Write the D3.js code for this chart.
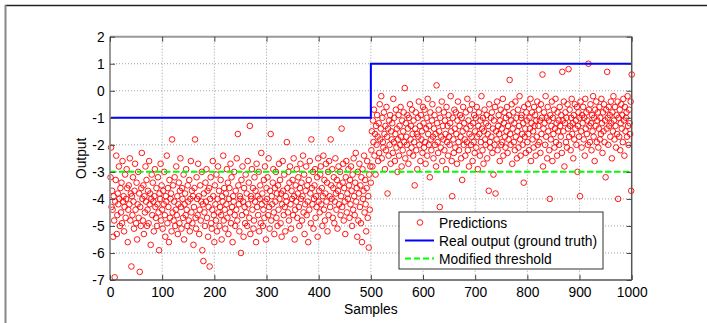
<!DOCTYPE html>
<html>
<head>
<meta charset="utf-8">
<script src="https://cdn.jsdelivr.net/npm/d3@7"></script>
<style>
  body { margin: 0; background: #fff; }
  svg { display: block; font-family: "Liberation Sans", Arial, sans-serif; }
  .grid line { stroke: #a0a0a0; stroke-dasharray: 1,2; }
</style>
</head>
<body>
<div id="chart"></div>
<script>
// Predictions (samples 1..500, then 501..1000)
const predFirstHalf = [
  -3.2,-2.1,-4.3,-3.7,-4.4,-5.4,-3.9,-4.8,-6.9,-4.1,-3.3,-2.4,-5.3,-4.6,-3.8,-4.2,-2.8,-4.0,-5.0,-3.6,
  -4.5,-3.4,-4.9,-2.6,-4.1,-3.9,-5.2,-4.3,-3.1,-4.7,-4.0,-2.9,-3.6,-5.6,-4.4,-3.5,-4.2,-2.5,-4.8,-3.8,
  -6.5,-3.9,-4.6,-3.2,-4.1,-5.1,-3.7,-2.7,-4.4,-4.9,-3.4,-5.5,-4.2,-3.0,-4.7,-3.8,-6.7,-4.3,-5.0,-3.6,
  -2.3,-4.0,-4.8,-3.5,-5.3,-3.9,-4.5,-2.8,-4.1,-3.3,-5.0,-4.4,-3.7,-4.9,-2.6,-4.2,-3.8,-5.7,-4.0,-3.1,
  -4.6,-3.4,-4.1,-5.2,-3.9,-2.9,-4.3,-4.7,-3.6,-5.0,-4.2,-3.2,-4.5,-5.9,-3.8,-4.0,-2.7,-4.8,-3.5,-4.4,
  -5.1,-3.7,-4.2,-3.0,-4.6,-5.4,-3.9,-4.1,-2.4,-4.9,-3.6,-4.3,-5.6,-3.3,-4.7,-4.0,-3.8,-5.2,-1.8,-4.5,
  -3.5,-4.8,-4.1,-3.2,-5.0,-4.4,-2.8,-4.6,-3.9,-5.3,-4.2,-3.4,-4.9,-3.7,-2.5,-4.3,-5.1,-3.6,-4.0,-4.7,
  -3.1,-5.5,-4.2,-3.8,-4.6,-2.9,-4.4,-5.0,-3.5,-4.1,-4.8,-3.3,-5.2,-4.0,-2.6,-4.5,-3.7,-4.9,-3.9,-5.7,
  -4.3,-3.6,-1.8,-4.7,-5.1,-3.2,-4.0,-4.6,-2.7,-3.9,-5.3,-4.4,-3.5,-4.8,-4.1,-3.0,-5.9,-4.2,-6.3,-3.8,
  -4.5,-5.0,-3.4,-4.1,-2.9,-4.7,-3.7,-5.4,-4.3,-3.6,-6.5,-4.0,-3.2,-4.9,-5.1,-4.4,-2.6,-3.9,-4.6,-5.6,
  -3.5,-4.2,-4.8,-3.1,-5.2,-4.0,-2.8,-4.5,-3.7,-5.0,-4.3,-3.3,-4.6,-5.5,-3.9,-4.1,-2.4,-4.8,-3.6,-4.4,
  -5.1,-3.8,-4.2,-2.9,-4.7,-3.4,-5.3,-4.0,-3.6,-4.5,-2.7,-4.9,-3.2,-4.3,-5.6,-3.9,-4.1,-3.0,-4.6,-5.0,
  -3.7,-4.4,-2.5,-4.8,-1.6,-3.5,-4.2,-5.2,-3.9,-4.0,-6.0,-3.3,-4.6,-2.8,-4.1,-5.4,-3.6,-4.3,-4.9,-3.1,
  -4.5,-3.8,-5.0,-2.6,-4.2,-3.4,-4.7,-1.3,-5.3,-3.9,-4.0,-2.9,-4.4,-3.6,-5.1,-4.8,-3.2,-4.1,-3.7,-5.6,
  -2.7,-4.3,-3.9,-4.6,-3.0,-5.2,-4.0,-3.5,-4.9,-2.3,-4.2,-3.8,-5.0,-4.4,-3.3,-4.7,-2.8,-4.1,-5.5,-3.6,
  -4.0,-3.2,-4.6,-2.5,-4.3,-5.1,-3.7,-1.6,-4.8,-3.9,-4.2,-3.4,-2.9,-4.5,-5.3,-3.6,-4.1,-3.0,-4.7,-3.8,
  -5.0,-3.5,-4.4,-2.7,-4.0,-3.3,-4.9,-3.8,-5.4,-4.2,-2.6,-3.7,-4.6,-3.1,-4.3,-5.2,-3.9,-4.1,-1.9,-3.6,
  -4.5,-3.0,-4.8,-3.4,-2.8,-4.2,-5.1,-3.7,-4.0,-3.3,-4.6,-2.5,-3.9,-5.5,-4.4,-3.5,-4.1,-2.9,-4.7,-3.8,
  -3.2,-4.3,-5.0,-3.6,-2.7,-4.0,-3.4,-4.8,-3.9,-2.4,-4.5,-3.1,-5.3,-4.2,-3.7,-2.8,-4.6,-3.5,-4.1,-5.6,
  -3.3,-4.4,-2.6,-3.8,-4.9,-1.8,-3.6,-4.2,-3.0,-5.1,-4.0,-3.5,-2.9,-4.7,-3.9,-4.3,-3.2,-5.4,-2.5,-4.1,
  -3.7,-4.5,-3.1,-2.8,-4.2,-3.6,-5.0,-3.9,-2.4,-4.4,-3.3,-4.8,-3.8,-2.7,-4.1,-3.4,-5.2,-3.0,-4.6,-2.6,
  -3.9,-4.3,-1.8,-3.5,-4.0,-2.9,-4.7,-3.6,-3.2,-4.9,-4.1,-2.5,-3.8,-4.4,-3.3,-5.1,-3.7,-2.8,-4.2,-3.5,
  -3.0,-4.6,-3.9,-1.4,-4.3,-3.4,-2.7,-4.8,-3.6,-4.1,-5.3,-3.2,-2.6,-4.5,-3.8,-4.0,-2.9,-3.5,-4.7,-3.3,
  -4.2,-2.8,-3.7,-5.0,-3.1,-4.4,-2.5,-3.9,-4.6,-3.4,-2.3,-4.1,-3.6,-5.4,-3.0,-4.8,-3.8,-2.7,-4.3,-3.5,
  -4.9,-3.2,-5.6,-2.9,-4.0,-3.7,-2.4,-4.5,-3.3,-4.2,-5.2,-3.6,-2.6,-4.7,-3.9,-5.8,-3.1,-4.4,-2.8,-3.4
];
const predSecondHalf = [
  -2.2,-1.5,-2.8,-1.1,-1.9,-0.7,-2.4,-1.6,-3.1,-1.3,-2.0,-0.9,-1.7,-2.6,-1.2,-2.3,-0.5,-1.8,-1.4,-0.2,
  -2.5,-1.0,-1.9,-2.1,-0.8,-1.6,-2.9,-1.3,-2.2,-0.6,-1.7,-3.8,-1.4,-2.4,-1.1,-2.0,-0.9,-2.7,-1.5,-1.8,
  -1.2,-2.3,-0.3,-1.9,-1.0,-2.6,-1.6,-0.7,-2.1,-1.4,-3.0,-1.8,-0.9,-2.4,-1.3,-2.0,-0.6,-1.7,-2.8,-1.1,
  -2.2,-1.5,-0.8,-1.9,0.1,-2.5,-1.2,-1.7,-2.0,-0.9,-1.4,-2.7,-1.0,-2.3,-0.5,-1.8,-1.3,-2.1,-0.7,-1.6,
  -2.4,-1.1,-1.9,-3.5,-1.4,-0.8,-2.2,-1.6,-2.9,-1.0,-1.7,-0.4,-2.0,-1.3,-2.6,-0.9,-1.8,-1.5,-2.3,-0.6,
  -1.2,-2.1,-0.7,-1.9,-2.7,-1.4,-1.0,-2.4,-0.3,-1.6,-2.0,-1.3,-3.2,-0.8,-1.8,-2.2,-1.1,-0.5,-1.7,-2.5,
  -1.4,-0.9,-2.0,-1.6,-2.8,0.2,-1.2,-1.9,-2.3,-0.7,-1.5,-4.3,-1.0,-2.1,-1.7,-0.4,-2.6,-1.3,-1.8,-0.8,
  -2.2,-1.1,-1.6,-2.9,-0.6,-1.9,-1.3,-2.4,-0.9,-1.7,-2.0,-1.2,-0.2,-1.5,-2.6,-3.9,-1.0,-1.8,-2.3,-0.7,
  -1.4,-2.1,-0.8,-1.6,-2.7,-1.1,-0.4,-1.9,-2.2,-1.3,-0.9,-1.7,-2.5,-1.0,-3.3,-1.5,-0.6,-2.0,-1.2,-1.8,
  -2.4,-0.8,-1.4,-1.9,-0.3,-2.2,-1.1,-2.8,-1.6,-0.7,-1.3,-2.0,-1.7,-0.5,-2.6,-1.2,-1.9,-0.9,-2.3,-1.5,
  -1.0,-2.1,-0.6,-1.7,-2.9,-1.3,-0.8,-1.6,-2.4,-1.1,-1.9,-0.2,-1.4,-2.2,-1.0,-2.7,-1.5,-0.7,-1.8,-2.0,
  -1.2,-0.9,-2.5,-1.6,-1.3,-3.7,-0.5,-1.9,-2.1,-1.0,-1.7,-0.8,-2.3,-1.4,-3.1,-1.1,-2.0,-0.6,-3.8,-1.5,
  -1.8,-0.4,-2.2,-1.3,-0.9,-1.6,-2.6,-1.1,-0.7,-2.0,-1.4,-1.9,-0.3,-2.4,-1.2,-0.8,-1.7,-2.1,-1.0,-1.5,
  -0.6,-2.3,-1.3,-1.8,-0.9,0.4,-1.6,-2.0,-1.1,-0.5,-2.7,-1.4,-0.8,-1.9,-1.2,-2.2,-0.4,-1.7,-1.0,-2.5,
  -1.5,-0.7,-2.1,-1.3,-0.2,-1.8,-2.4,-1.0,-0.9,-1.6,-2.0,-1.2,-3.4,-0.6,-1.7,-1.4,-2.3,-0.8,-1.1,-1.9,
  -0.5,-1.6,-2.2,-1.0,-1.4,-0.3,-2.6,-1.2,-0.8,-1.8,-1.5,-2.1,-0.6,-1.3,-0.9,-2.4,-1.1,-1.7,-0.4,-2.0,
  -1.3,-0.7,-1.9,-1.1,-2.3,-0.5,-1.6,-1.0,0.6,-2.8,-1.4,-0.8,-1.2,-2.0,-0.2,-1.7,-1.0,-2.5,-0.6,-1.5,
  -1.1,-2.2,-4.0,-0.9,-1.8,-1.3,-0.4,-2.6,-1.0,-1.6,-0.7,-2.1,-1.4,-0.3,-1.9,-1.2,-2.4,-0.8,-1.5,-1.1,
  -2.0,-0.6,-1.3,-1.7,-0.9,-2.3,0.7,-1.1,-1.5,-0.4,-2.8,-1.2,-0.8,-1.9,-1.0,-2.1,-0.5,-1.4,0.8,-1.7,
  -0.7,-1.3,-2.2,-1.0,-0.3,-1.6,-1.2,-2.5,-0.9,-1.8,-0.5,-1.4,-1.1,-2.0,-0.6,-3.0,-1.3,-0.8,-1.7,-1.0,
  -3.9,-0.4,-1.5,-2.1,-0.9,-1.2,-0.6,-1.8,-1.0,-2.4,-0.3,-1.4,-0.8,-1.6,-1.1,-2.0,1.0,-0.7,-1.3,-1.9,
  -0.5,-1.2,-2.2,-0.9,-1.5,-0.2,-1.7,-1.0,-2.6,-0.7,-1.3,-0.4,-1.9,-1.1,-0.8,-2.1,-1.4,-0.6,-1.8,-1.0,
  -1.6,-0.3,-1.2,-2.3,-0.8,-1.5,-0.5,-1.9,-1.1,-3.2,-0.7,-1.4,0.7,-1.0,-2.0,-0.6,-1.3,-0.9,-1.7,-0.4,
  -1.2,-2.5,-0.8,-1.5,-0.2,-1.1,-1.8,-0.6,-1.3,-2.1,-0.9,-1.6,-0.4,-4.0,-1.0,-1.7,-0.7,-2.2,-1.2,-0.5,
  -1.4,-0.9,-1.9,-0.3,-1.1,-2.4,-0.6,-1.5,-1.0,-0.8,-1.7,-0.2,-1.3,-2.0,-0.7,-1.2,-1.6,-0.4,-3.7,0.6
];

// Ground truth step and threshold
const truthX = [0, 500, 500, 1000];
const truthY = [-1, -1, 1, 1];
const thresholdX = [0, 1000];
const thresholdY = [-3, -3];

const xTicks = [0, 100, 200, 300, 400, 500, 600, 700, 800, 900, 1000];
const yTicks = [-7, -6, -5, -4, -3, -2, -1, 0, 1, 2];
const legendLabels = ['Predictions', 'Real output (ground truth)', 'Modified threshold'];

const width = 707;
const height = 323;
const margin = {top: 36.7, right: 75.3, bottom: 43, left: 110};
const plotW = width - margin.left - margin.right;
const plotH = height - margin.top - margin.bottom;

const svg = d3.select('#chart').append('svg')
  .attr('width', width)
  .attr('height', height);

svg.append('rect').attr('width', width).attr('height', height).attr('fill', '#fff');

// figure frame (cropped border)
svg.append('line').attr('x1', 5).attr('x2', width).attr('y1', 5.5).attr('y2', 5.5)
  .attr('stroke', '#222').attr('stroke-width', 1.5);
svg.append('line').attr('x1', 5.5).attr('x2', 5.5).attr('y1', 5).attr('y2', height)
  .attr('stroke', '#888').attr('stroke-width', 2);

const g = svg.append('g')
  .attr('transform', 'translate(' + margin.left + ',' + margin.top + ')');

const xScale = d3.scaleLinear().domain([0, 1000]).range([0, plotW]);
const yScale = d3.scaleLinear().domain([-7, 2]).range([plotH, 0]);

// grid lines
const grid = g.append('g').attr('class', 'grid');
grid.selectAll('.vgrid')
  .data(xTicks.slice(1, -1))
  .enter().append('line')
  .attr('x1', (d) => xScale(d)).attr('x2', (d) => xScale(d))
  .attr('y1', 0).attr('y2', plotH);
grid.selectAll('.hgrid')
  .data(yTicks.slice(1, -1))
  .enter().append('line')
  .attr('x1', 0).attr('x2', plotW)
  .attr('y1', (d) => yScale(d)).attr('y2', (d) => yScale(d));

// predictions
const preds = predFirstHalf.concat(predSecondHalf).map((v, i) => ({x: i + 1, y: v}));
g.append('g')
  .selectAll('circle')
  .data(preds)
  .enter().append('circle')
  .attr('cx', (d) => xScale(d.x))
  .attr('cy', (d) => yScale(d.y))
  .attr('r', 2.8)
  .style('fill', 'none')
  .style('stroke', '#ff0000')
  .style('stroke-width', 0.9);

const line = d3.line()
  .x((d) => xScale(d[0]))
  .y((d) => yScale(d[1]));

// ground truth
g.append('path')
  .datum(d3.zip(truthX, truthY))
  .attr('d', line)
  .style('fill', 'none')
  .style('stroke', '#0000ff')
  .style('stroke-width', 2);

// modified threshold
g.append('path')
  .datum(d3.zip(thresholdX, thresholdY))
  .attr('d', line)
  .style('fill', 'none')
  .style('stroke', '#00ff00')
  .style('stroke-width', 2)
  .style('stroke-dasharray', '6,3');

// axes box: left/top light, right/bottom dark
g.append('line').attr('x1', 0).attr('x2', 0).attr('y1', 0).attr('y2', plotH)
  .attr('stroke', '#999').attr('stroke-width', 2);
g.append('line').attr('x1', 0).attr('x2', plotW).attr('y1', 0).attr('y2', 0)
  .attr('stroke', '#999').attr('stroke-width', 2);
g.append('line').attr('x1', plotW).attr('x2', plotW).attr('y1', 0).attr('y2', plotH)
  .attr('stroke', '#555').attr('stroke-width', 1.5);
g.append('line').attr('x1', 0).attr('x2', plotW).attr('y1', plotH).attr('y2', plotH)
  .attr('stroke', '#555').attr('stroke-width', 1.5);

// axes with inward ticks, plain hyphen-minus labels like MATLAB
const plainFmt = (d) => String(d);
const xAxis = g.append('g')
  .attr('transform', 'translate(0,' + plotH + ')')
  .call(d3.axisBottom(xScale).tickValues(xTicks).tickFormat(plainFmt)
    .tickSizeInner(-5).tickSizeOuter(0).tickPadding(7));
const yAxis = g.append('g')
  .call(d3.axisLeft(yScale).tickValues(yTicks).tickFormat(plainFmt)
    .tickSizeInner(-5).tickSizeOuter(0).tickPadding(4));
g.append('g')
  .attr('transform', 'translate(' + plotW + ',0)')
  .call(d3.axisRight(yScale).tickValues(yTicks).tickSizeInner(-5).tickSizeOuter(0).tickFormat(''));
g.append('g')
  .call(d3.axisTop(xScale).tickValues(xTicks).tickSizeInner(-5).tickSizeOuter(0).tickFormat(''));

g.selectAll('.domain').remove();
g.selectAll('.tick line').attr('stroke', '#444');
[xAxis, yAxis].forEach((ax) => {
  ax.selectAll('text')
    .style('font-family', '"Liberation Sans", Arial, sans-serif')
    .style('font-size', '13.8px')
    .attr('fill', '#000');
});
yAxis.selectAll('text').attr('dx', '-0.1em');

// axis titles
svg.append('text')
  .attr('x', margin.left + plotW / 2)
  .attr('y', 314)
  .attr('text-anchor', 'middle')
  .style('font-size', '13.8px')
  .text('Samples');
svg.append('text')
  .attr('transform', 'translate(86,' + (margin.top + plotH / 2) + ') rotate(-90)')
  .attr('text-anchor', 'middle')
  .style('font-size', '13.8px')
  .text('Output');

// legend
const legend = svg.append('g').attr('transform', 'translate(399,212)');
legend.append('rect')
  .attr('width', 204).attr('height', 57)
  .attr('fill', '#fff')
  .attr('stroke', '#333')
  .attr('stroke-width', 1);
const rowY = [10.5, 28.5, 46.5];
legend.append('circle')
  .attr('cx', 21).attr('cy', rowY[0]).attr('r', 2.8)
  .style('fill', 'none').style('stroke', '#ff0000').style('stroke-width', 0.9);
legend.append('line')
  .attr('x1', 6).attr('x2', 35).attr('y1', rowY[1]).attr('y2', rowY[1])
  .style('stroke', '#0000ff').style('stroke-width', 2);
legend.append('line')
  .attr('x1', 6).attr('x2', 35).attr('y1', rowY[2]).attr('y2', rowY[2])
  .style('stroke', '#00ff00').style('stroke-width', 2).style('stroke-dasharray', '6,3');
legend.selectAll('.legend-label')
  .data(legendLabels)
  .enter().append('text')
  .attr('class', 'legend-label')
  .attr('x', 40)
  .attr('y', (d, i) => rowY[i] + 5)
  .style('font-size', '13.8px')
  .text((d) => d);
</script>
</body>
</html>
